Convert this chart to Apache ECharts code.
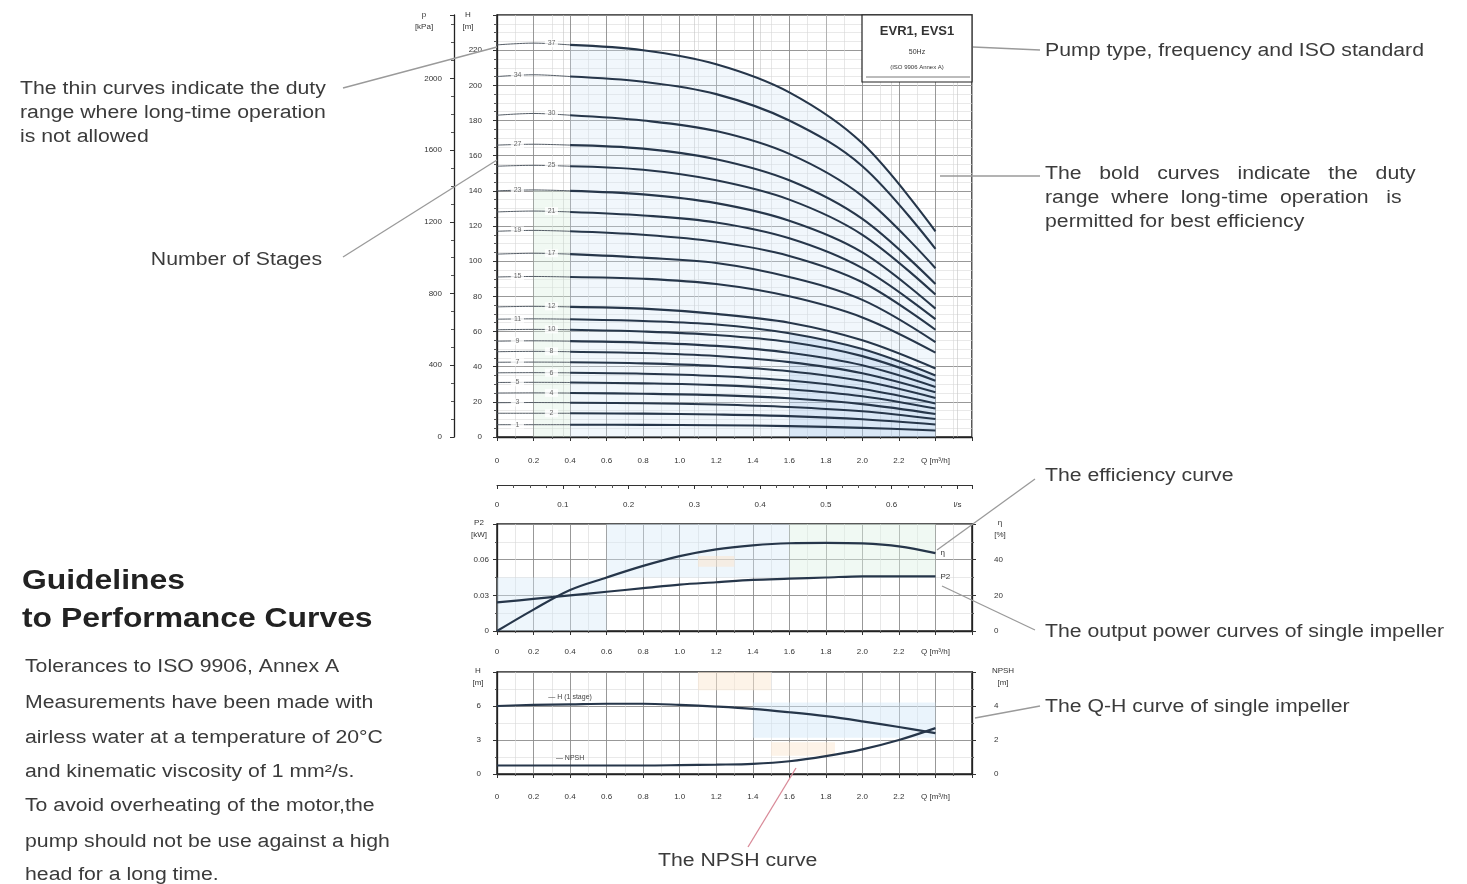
<!DOCTYPE html>
<html>
<head>
<meta charset="utf-8">
<script src="https://cdn.jsdelivr.net/npm/echarts@6/dist/echarts.min.js"></script>
<style>
html,body{margin:0;padding:0;background:#fff;}
#chart{width:1467px;height:884px;}
</style>
</head>
<body>
<div id="chart"></div>
<script>
// ---- Multistage Q-H curves (H in m at each flow in m³/h) ----
const stageFlow = [0, 0.2, 0.4, 0.8, 1.2, 1.6, 2.0, 2.4];
const stageCounts = [37, 34, 30, 27, 25, 23, 21, 19, 17, 15, 12, 11, 10, 9, 8, 7, 6, 5, 4, 3, 2, 1];
const stageHeads = [
  [223, 224, 223, 220, 212, 196, 167, 117],
  [205, 206, 205, 202, 195, 180, 154, 107],
  [183, 184, 183, 180, 174, 161, 137, 96],
  [166, 166.5, 166, 164, 158, 146, 124, 87],
  [154, 154.5, 154, 152, 146, 135, 115, 81],
  [140, 140.5, 140, 138, 133, 123, 105, 73],
  [128, 128.5, 128, 126, 122, 113, 96, 67],
  [117, 117.5, 117, 115, 111, 103, 88, 61],
  [104, 104.5, 104, 102, 99, 91, 78, 54],
  [91, 91.3, 91, 90, 87, 80, 68, 48],
  [74, 74.3, 74, 73, 70, 65, 55, 39],
  [67, 67.2, 67, 66, 64, 59, 50, 35],
  [61, 61.2, 61, 60, 58, 54, 46, 32],
  [54.5, 54.7, 54.5, 53.7, 51.8, 47.9, 40.8, 28.5],
  [48.5, 48.7, 48.5, 47.8, 46.1, 42.6, 36.3, 25.4],
  [42.5, 42.6, 42.5, 41.9, 40.4, 37.4, 31.8, 22.2],
  [36.5, 36.6, 36.5, 36.0, 34.7, 32.1, 27.3, 19.1],
  [31, 31.1, 31, 30.5, 29.5, 27.2, 23.2, 16.2],
  [25, 25.1, 25, 24.6, 23.8, 22.0, 18.7, 13.1],
  [19.5, 19.6, 19.5, 19.2, 18.5, 17.1, 14.6, 10.2],
  [13.5, 13.5, 13.5, 13.3, 12.8, 11.9, 10.1, 7.1],
  [7, 7, 7, 6.9, 6.7, 6.2, 5.2, 3.7]
];

// ---- Single impeller curves ----
const flowM3h = [0, 0.2, 0.4, 0.6, 0.8, 1.0, 1.2, 1.4, 1.6, 1.8, 2.0, 2.2, 2.4];
const efficiencyPct = [0, 12, 23, 30, 36.5, 42, 45.8, 48, 49.2, 49.4, 49.1, 47.5, 43.7];
const powerKW = [0.024, 0.027, 0.030, 0.033, 0.036, 0.039, 0.041, 0.043, 0.044, 0.045, 0.046, 0.046, 0.046];
const headSingleM = [6.0, 6.1, 6.15, 6.2, 6.2, 6.1, 5.95, 5.75, 5.45, 5.1, 4.65, 4.15, 3.6];
const npshM = [0.5, 0.5, 0.5, 0.5, 0.5, 0.52, 0.55, 0.6, 0.75, 1.05, 1.45, 2.0, 2.7];

// ---- Axis scales ----
const flowMax = 2.6;          // m³/h
const headMax = 240;          // m
const KPA_PER_M = 9.80665;    // water column conversion
const LS_PER_M3H = 1 / 3.6;

const FONT = "'Liberation Sans', Arial, sans-serif";
const INK = '#3b3b3b';
const CURVE = '#26364a';
const WIDEN = 1.18;           // horizontal stretch of the explanatory texts

const pts = (xs, ys) => xs.map((x, i) => [x, ys[i]]);
const near = (a, b) => Math.abs(a - b) < 1e-6;

function flowLabel(v) {
  const r = Math.round(v * 10) / 10;
  if (near(r, 2.4)) return 'Q [m³/h]';
  if (r > 2.4) return '';
  return r === 0 ? '0' : r.toFixed(1);
}

function flowAxis(gridIndex, margin) {
  return {
    type: 'value', gridIndex, min: 0, max: flowMax, interval: 0.2,
    axisLine: { show: true, onZero: false, lineStyle: { color: '#222', width: 1.3 } },
    axisTick: { show: true, length: 4, lineStyle: { color: '#333' } },
    minorTick: { show: true, splitNumber: 2, length: 2, lineStyle: { color: '#555' } },
    axisLabel: { fontSize: 8, color: '#333', margin, fontFamily: FONT, formatter: flowLabel },
    splitLine: { show: true, lineStyle: { color: '#8c8c8c', width: 0.9 } },
    minorSplitLine: { show: true, lineStyle: { color: '#d6d6d6', width: 0.6 } }
  };
}

function valueAxis(o) {
  return Object.assign({
    type: 'value',
    axisLine: { show: true, onZero: false, lineStyle: { color: '#222', width: 1.3 } },
    axisTick: { show: true, length: 4, lineStyle: { color: '#333' } },
    minorTick: { show: true, splitNumber: 2, length: 2, lineStyle: { color: '#555' } },
    splitLine: { show: false },
    minorSplitLine: { show: false }
  }, o);
}

const xAxes = [
  flowAxis(0, 20),
  // l/s scale below the head chart
  {
    type: 'value', gridIndex: 0, position: 'bottom', offset: 48,
    min: 0, max: flowMax * LS_PER_M3H, interval: 0.1,
    axisLine: { show: true, onZero: false, lineStyle: { color: '#333', width: 1 } },
    axisTick: { show: true, length: 4, lineStyle: { color: '#333' } },
    minorTick: { show: true, splitNumber: 4, length: 3, lineStyle: { color: '#555' } },
    axisLabel: {
      fontSize: 8, color: '#333', margin: 16, fontFamily: FONT,
      formatter: v => {
        const r = Math.round(v * 10) / 10;
        if (!near(r, v)) return '';
        if (near(r, 0.7)) return 'l/s';
        return r === 0 ? '0' : r.toFixed(1);
      }
    },
    splitLine: { show: true, lineStyle: { color: '#c4c4c4', width: 0.6 } }
  },
  flowAxis(1, 17),
  flowAxis(2, 19)
];

const yAxes = [
  // 0: head in m (head chart)
  valueAxis({
    gridIndex: 0, position: 'left', min: 0, max: headMax, interval: 20,
    minorTick: { show: true, splitNumber: 4, length: 3, lineStyle: { color: '#555' } },
    axisLabel: { fontSize: 8, color: '#333', margin: 15, fontFamily: FONT,
      formatter: v => (v >= headMax ? '' : String(v)) },
    splitLine: { show: true, lineStyle: { color: '#8c8c8c', width: 0.9 } },
    minorSplitLine: { show: true, lineStyle: { color: '#dadada', width: 0.6 } }
  }),
  // 1: pressure in kPa (head chart, outer scale)
  valueAxis({
    gridIndex: 0, position: 'left', offset: 43, min: 0, max: headMax * KPA_PER_M, interval: 400,
    minorTick: { show: true, splitNumber: 4, length: 3, lineStyle: { color: '#555' } },
    axisLabel: { fontSize: 8, color: '#333', margin: 12, fontFamily: FONT,
      formatter: v => (near(v / 400, Math.round(v / 400)) ? String(Math.round(v)) : '') }
  }),
  // 2: power kW
  valueAxis({
    gridIndex: 1, position: 'left', min: 0, max: 0.09, interval: 0.03,
    axisLabel: { fontSize: 8, color: '#333', margin: 8, fontFamily: FONT,
      formatter: v => { const r = Math.round(v * 100) / 100; return r >= 0.09 ? '' : (r === 0 ? '0' : r.toFixed(2)); } },
    splitLine: { show: true, lineStyle: { color: '#8c8c8c', width: 0.9 } },
    minorSplitLine: { show: true, lineStyle: { color: '#dadada', width: 0.6 } }
  }),
  // 3: efficiency %
  valueAxis({
    gridIndex: 1, position: 'right', min: 0, max: 60, interval: 20,
    axisLabel: { fontSize: 8, color: '#333', margin: 22, fontFamily: FONT,
      formatter: v => (v >= 60 ? '' : String(v)) }
  }),
  // 4: single impeller head m
  valueAxis({
    gridIndex: 2, position: 'left', min: 0, max: 9, interval: 3,
    axisLabel: { fontSize: 8, color: '#333', margin: 16, fontFamily: FONT,
      formatter: v => (v >= 9 ? '' : String(v)) },
    splitLine: { show: true, lineStyle: { color: '#8c8c8c', width: 0.9 } },
    minorSplitLine: { show: true, lineStyle: { color: '#dadada', width: 0.6 } }
  }),
  // 5: NPSH m
  valueAxis({
    gridIndex: 2, position: 'right', min: 0, max: 6, interval: 2,
    axisLabel: { fontSize: 8, color: '#333', margin: 22, fontFamily: FONT,
      formatter: v => (v >= 6 ? '' : String(v)) }
  })
];

const series = [];

// light shading of the preferred operating field under the highest curve
series.push({
  type: 'line', xAxisIndex: 0, yAxisIndex: 0, silent: true, z: 1,
  data: pts(stageFlow.slice(2), stageHeads[0].slice(2)),
  smooth: 0.35, symbol: 'none',
  lineStyle: { width: 0 },
  areaStyle: { color: 'rgba(210,231,247,0.45)', origin: 'start' }
});
series.push({
  type: 'line', xAxisIndex: 0, yAxisIndex: 0, silent: true, z: 1,
  data: pts(stageFlow.slice(5), stageHeads[11].slice(5)),
  smooth: 0.35, symbol: 'none',
  lineStyle: { width: 0 },
  areaStyle: { color: 'rgba(120,170,222,0.28)', origin: 'start' }
});
series.push({
  type: 'line', xAxisIndex: 0, yAxisIndex: 0, silent: true, z: 1,
  data: pts(stageFlow.slice(1, 3), stageHeads[5].slice(1, 3)),
  smooth: 0.35, symbol: 'none',
  lineStyle: { width: 0 },
  areaStyle: { color: 'rgba(214,238,222,0.5)', origin: 'start' }
});

// each stage curve: thin part (not for continuous duty) + bold part
stageHeads.forEach((heads) => {
  series.push({
    type: 'line', xAxisIndex: 0, yAxisIndex: 0, z: 3,
    data: pts(stageFlow.slice(0, 3), heads.slice(0, 3)),
    smooth: 0.35, symbol: 'none',
    lineStyle: { color: '#555d66', width: 1 }
  });
  series.push({
    type: 'line', xAxisIndex: 0, yAxisIndex: 0, z: 4,
    data: pts(stageFlow.slice(2), heads.slice(2)),
    smooth: 0.35, symbol: 'none',
    lineStyle: { color: CURVE, width: 2.1 }
  });
});

// number-of-stages tags on each curve
series.push({
  type: 'scatter', xAxisIndex: 0, yAxisIndex: 0, z: 6, silent: true,
  data: stageHeads.map((heads, i) => ({
    value: [stageFlow[1], heads[1]],
    symbolOffset: [i % 2 === 0 ? 18 : -16, 0]
  })),
  symbol: 'rect', symbolSize: [13, 8],
  itemStyle: { color: '#ffffff' },
  label: {
    show: true, position: 'inside', fontSize: 7, color: '#444', fontFamily: FONT,
    formatter: p => String(stageCounts[p.dataIndex])
  }
});

// efficiency and power of one impeller
series.push({
  type: 'line', xAxisIndex: 2, yAxisIndex: 3, z: 4,
  data: pts(flowM3h, efficiencyPct), smooth: 0.35, symbol: 'none',
  lineStyle: { color: CURVE, width: 2.2 },
  endLabel: { show: true, formatter: 'η', fontSize: 8, color: '#333', distance: 5, fontFamily: FONT },
  markArea: {
    silent: true,
    itemStyle: { color: 'rgba(212,232,248,0.4)' },
    data: [
      [{ xAxis: 0, yAxis: 0 }, { xAxis: 0.6, yAxis: 30 }],
      [{ xAxis: 0.6, yAxis: 30 }, { xAxis: 1.6, yAxis: 60 }],
      [{ xAxis: 1.6, yAxis: 30 }, { xAxis: 2.4, yAxis: 60, itemStyle: { color: 'rgba(222,241,228,0.45)' } }],
      [{ xAxis: 1.1, yAxis: 36 }, { xAxis: 1.3, yAxis: 42, itemStyle: { color: 'rgba(252,226,200,0.45)' } }]
    ]
  }
});
series.push({
  type: 'line', xAxisIndex: 2, yAxisIndex: 2, z: 4,
  data: pts(flowM3h, powerKW), smooth: 0.35, symbol: 'none',
  lineStyle: { color: CURVE, width: 2.2 },
  endLabel: { show: true, formatter: 'P2', fontSize: 8, color: '#333', distance: 5, fontFamily: FONT }
});

// single impeller head and NPSH
series.push({
  type: 'line', xAxisIndex: 3, yAxisIndex: 4, z: 4,
  data: pts(flowM3h, headSingleM), smooth: 0.35, symbol: 'none',
  lineStyle: { color: CURVE, width: 2.2 },
  markPoint: {
    symbol: 'rect', symbolSize: 1, itemStyle: { color: 'rgba(0,0,0,0)' },
    label: { show: true, position: 'top', distance: 3, fontSize: 7, color: '#444', fontFamily: FONT,
      formatter: '— H (1 stage)' },
    data: [{ coord: [flowM3h[2], headSingleM[2]] }]
  },
  markArea: {
    silent: true,
    itemStyle: { color: 'rgba(208,230,248,0.45)' },
    data: [
      [{ xAxis: 1.4, yAxis: 3.2 }, { xAxis: 2.4, yAxis: 6.3 }],
      [{ xAxis: 1.1, yAxis: 7.4 }, { xAxis: 1.5, yAxis: 9, itemStyle: { color: 'rgba(252,232,210,0.5)' } }],
      [{ xAxis: 1.5, yAxis: 1.6 }, { xAxis: 1.85, yAxis: 2.8, itemStyle: { color: 'rgba(252,232,210,0.5)' } }]
    ]
  }
});
series.push({
  type: 'line', xAxisIndex: 3, yAxisIndex: 5, z: 4,
  data: pts(flowM3h, npshM), smooth: 0.35, symbol: 'none',
  lineStyle: { color: CURVE, width: 2.2 },
  markPoint: {
    symbol: 'rect', symbolSize: 1, itemStyle: { color: 'rgba(0,0,0,0)' },
    label: { show: true, position: 'top', distance: 3, fontSize: 7, color: '#444', fontFamily: FONT,
      formatter: '— NPSH' },
    data: [{ coord: [flowM3h[2], npshM[2]] }]
  }
});

// ---- Explanatory texts and leader lines ----
function txt(x, y, text, size, align, weight) {
  const a = align || 'left';
  return {
    type: 'text', x, y, z: 100, scaleX: WIDEN,
    style: { text, font: `${weight || ''} ${size}px ${FONT}`.trim(), fill: weight ? '#222' : INK,
      align: a, verticalAlign: 'middle', textAlign: a, textVerticalAlign: 'middle' }
  };
}
function ln(x1, y1, x2, y2, color) {
  return { type: 'line', z: 99, shape: { x1, y1, x2, y2 }, style: { stroke: color || '#9a9a9a', lineWidth: 1.3 } };
}
function small(x, y, text, size, weight) {
  return { type: 'text', x, y, z: 100,
    style: { text, font: `${weight || ''} ${size || 8}px ${FONT}`.trim(), fill: '#333', align: 'center', verticalAlign: 'middle',
      textAlign: 'center', textVerticalAlign: 'middle' } };
}

const graphics = [
  // axis headers
  small(468, 15, 'H'), small(468, 27, '[m]'),
  small(424, 15, 'p'), small(424, 27, '[kPa]'),
  small(479, 523, 'P2'), small(479, 535, '[kW]'),
  small(1000, 523, 'η'), small(1000, 535, '[%]'),
  small(478, 671, 'H'), small(478, 683, '[m]'),
  small(1003, 671, 'NPSH'), small(1003, 683, '[m]'),

  // pump type box
  { type: 'rect', z: 98, shape: { x: 862, y: 15, width: 110, height: 67 },
    style: { fill: '#ffffff', stroke: '#222', lineWidth: 1.2 } },
  { type: 'line', z: 99, shape: { x1: 866, y1: 77, x2: 970, y2: 77 }, style: { stroke: '#555', lineWidth: 0.8 } },
  small(917, 31, 'EVR1, EVS1', 13, 'bold'),
  small(917, 52, '50Hz', 7),
  small(917, 67, '(ISO 9906 Annex A)', 6),

  // leader lines
  ln(343, 88, 497, 47),
  ln(343, 257, 497, 160),
  ln(973, 47, 1040, 50),
  ln(940, 176, 1040, 176),
  ln(1035, 479, 937, 550),
  ln(1035, 630, 942, 586),
  ln(1040, 706, 975, 718),
  ln(748, 847, 796, 768, '#d98a98'),

  // left annotations
  txt(20, 89, 'The thin curves indicate the duty', 18),
  txt(20, 113, 'range where long-time operation', 18),
  txt(20, 137, 'is not allowed', 18),
  txt(322, 260, 'Number of Stages', 18, 'right'),

  // right annotations
  txt(1045, 51, 'Pump type, frequency and ISO standard', 18),
  txt(1045, 174, 'The   bold   curves   indicate   the   duty', 18),
  txt(1045, 198, 'range  where  long-time  operation   is', 18),
  txt(1045, 222, 'permitted for best efficiency', 18),
  txt(1045, 476, 'The efficiency curve', 18),
  txt(1045, 632, 'The output power curves of single impeller', 18),
  txt(1045, 707, 'The Q-H curve of single impeller', 18),
  txt(658, 861, 'The NPSH curve', 18),

  // guideline block
  txt(22, 582, 'Guidelines', 27, 'left', 'bold'),
  txt(22, 620, 'to Performance Curves', 27, 'left', 'bold'),
  txt(25, 667, 'Tolerances to ISO 9906, Annex A', 18),
  txt(25, 703, 'Measurements have been made with', 18),
  txt(25, 738, 'airless water at a temperature of 20°C', 18),
  txt(25, 772, 'and kinematic viscosity of 1 mm²/s.', 18),
  txt(25, 806, 'To avoid overheating of the motor,the', 18),
  txt(25, 842, 'pump should not be use against a high', 18),
  txt(25, 875, 'head for a long time.', 18)
];

const chart = echarts.init(document.getElementById('chart'), null, { renderer: 'canvas' });
chart.setOption({
  animation: false,
  backgroundColor: '#ffffff',
  textStyle: { fontFamily: FONT },
  grid: [
    { left: 497, right: 495, top: 15, height: 422, show: true, borderColor: '#222', borderWidth: 1.5, backgroundColor: 'transparent' },
    { left: 497, right: 495, top: 524, height: 107, show: true, borderColor: '#222', borderWidth: 1.5, backgroundColor: 'transparent' },
    { left: 497, right: 495, top: 672, height: 102, show: true, borderColor: '#222', borderWidth: 1.5, backgroundColor: 'transparent' }
  ],
  xAxis: xAxes,
  yAxis: yAxes,
  series,
  graphic: graphics
});
</script>
</body>
</html>
